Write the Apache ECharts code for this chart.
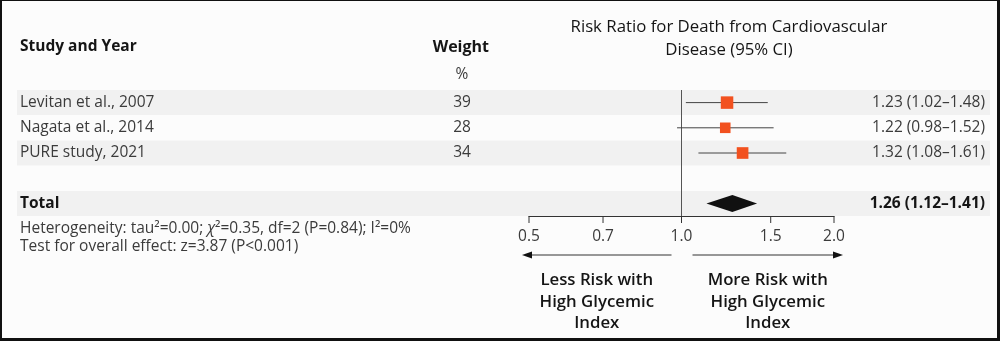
<!DOCTYPE html>
<html>
<head>
<meta charset="utf-8">
<script src="https://cdn.jsdelivr.net/npm/echarts@6/dist/echarts.min.js"></script>
<style>
html,body{margin:0;padding:0;background:#fcfcfc;}
#wrap{position:relative;width:1000px;height:341px;}
#chart{position:absolute;left:0;top:0;width:1000px;height:341px;}
#frame{position:absolute;left:0;top:0;width:1000px;height:341px;box-sizing:border-box;
  border-left:2px solid #111;border-top:1px solid #111;border-right:3px solid #111;border-bottom:3px solid #111;pointer-events:none;}
</style>
</head>
<body>
<div id="wrap"><div id="chart"></div><div id="frame"></div></div>
<script>
// ---- data ----
const studies = ['Levitan et al., 2007', 'Nagata et al., 2014', 'PURE study, 2021'];
const weights = [39, 28, 34];
const riskRatio = [1.23, 1.22, 1.32];
const ciLower = [1.02, 0.98, 1.08];
const ciUpper = [1.48, 1.52, 1.61];
const totalLabel = 'Total';
const totalRatio = [1.26];
const totalLower = [1.12];
const totalUpper = [1.41];
const tickValues = [0.5, 0.7, 1.0, 1.5, 2.0];
const tickLabels = ['0.5', '0.7', '1.0', '1.5', '2.0'];

const FONT = '"Open Sans", Lato, sans-serif';
const TXT = '#3b3b3b';
const DARK = '#151515';
const BODY = '15.5px ' + FONT;
const fmt = (v) => v.toFixed(2);
const ciText = (r, l, u) => fmt(r) + ' (' + fmt(l) + '\u2013' + fmt(u) + ')';
const TOTAL_ROW = studies.length + 1;

const chart = echarts.init(document.getElementById('chart'), null, {renderer: 'canvas'});

const rowData = studies.map((s, i) => [i, riskRatio[i], ciLower[i], ciUpper[i], weights[i]]);
const bandRows = [0, 2, TOTAL_ROW];

const option = {
  backgroundColor: '#fcfcfc',
  animation: false,
  grid: {left: 529, right: 166, top: 90, bottom: 125},
  xAxis: {
    type: 'log', logBase: 10, min: 0.5, max: 2,
    axisLine: {show: true, onZero: false, lineStyle: {color: '#333', width: 1}},
    axisTick: {show: false}, axisLabel: {show: false}, splitLine: {show: false}
  },
  yAxis: {
    type: 'value', min: -0.5, max: TOTAL_ROW + 0.5, inverse: true, show: false,
    splitLine: {show: false}
  },
  graphic: [
    {type: 'text', x: 20, y: 47, style: {text: 'Study and Year', font: 'bold 15.5px ' + FONT, fill: DARK, verticalAlign: 'middle'}},
    {type: 'text', x: 489, y: 47, style: {text: 'Weight', font: 'bold 16px ' + FONT, fill: DARK, align: 'right', verticalAlign: 'middle'}},
    {type: 'text', x: 462, y: 75, style: {text: '%', font: BODY, fill: TXT, align: 'center', verticalAlign: 'middle'}},
    {type: 'text', x: 729, y: 27, style: {text: 'Risk Ratio for Death from Cardiovascular', font: '500 16.8px ' + FONT, fill: DARK, align: 'center', verticalAlign: 'middle'}},
    {type: 'text', x: 729, y: 50, style: {text: 'Disease (95% CI)', font: '500 16.8px ' + FONT, fill: DARK, align: 'center', verticalAlign: 'middle'}},
    {type: 'text', x: 20, y: 229, style: {
      text: 'Heterogeneity: tau\u00b2=0.00; {i|\u03c7}\u00b2=0.35, df=2 (P=0.84); I\u00b2=0%',
      font: BODY, fill: TXT, verticalAlign: 'middle',
      rich: {i: {fontStyle: 'italic', fontSize: 15.5, fontFamily: FONT, fill: TXT}}
    }},
    {type: 'text', x: 20, y: 247, style: {text: 'Test for overall effect: z=3.87 (P<0.001)', font: BODY, fill: TXT, verticalAlign: 'middle'}}
  ],
  series: [
    {
      type: 'custom', z: 1, silent: true,
      data: bandRows.map(r => [r]),
      renderItem: (params, api) => {
        const c = api.coord([1, api.value(0)]);
        return {type: 'rect', shape: {x: 17, y: c[1] - 12.5, width: 973, height: 25}, style: {fill: '#f1f1f1'}};
      }
    },
    {
      type: 'custom', z: 2, silent: true,
      data: [[1]],
      renderItem: (params, api) => {
        const a = api.coord([api.value(0), -0.5]);
        const b = api.coord([api.value(0), TOTAL_ROW + 0.5]);
        return {type: 'line', shape: {x1: a[0], y1: a[1], x2: b[0], y2: b[1]}, style: {stroke: '#555', lineWidth: 1}};
      }
    },
    {
      type: 'custom', z: 3, silent: true,
      data: rowData,
      renderItem: (params, api) => {
        const i = params.dataIndex;
        const y = api.value(0);
        const p = api.coord([api.value(1), y]);
        const l = api.coord([api.value(2), y]);
        const u = api.coord([api.value(3), y]);
        const s = 2 * Math.sqrt(api.value(4));
        return {type: 'group', children: [
          {type: 'line', shape: {x1: l[0], y1: l[1], x2: u[0], y2: u[1]}, style: {stroke: '#444', lineWidth: 1}},
          {type: 'rect', shape: {x: p[0] - s / 2, y: p[1] - s / 2, width: s, height: s}, style: {fill: '#f2511f'}},
          {type: 'text', x: 20, y: p[1], style: {text: studies[i], font: BODY, fill: TXT, verticalAlign: 'middle'}},
          {type: 'text', x: 462, y: p[1], style: {text: String(weights[i]), font: BODY, fill: TXT, align: 'center', verticalAlign: 'middle'}},
          {type: 'text', x: 985, y: p[1], style: {text: ciText(riskRatio[i], ciLower[i], ciUpper[i]), font: BODY, fill: TXT, align: 'right', verticalAlign: 'middle'}}
        ]};
      }
    },
    {
      type: 'custom', z: 3, silent: true,
      data: totalRatio.map((r, i) => [TOTAL_ROW, r, totalLower[i], totalUpper[i]]),
      renderItem: (params, api) => {
        const y = api.value(0);
        const p = api.coord([api.value(1), y]);
        const l = api.coord([api.value(2), y]);
        const u = api.coord([api.value(3), y]);
        const h = 8.5;
        return {type: 'group', children: [
          {type: 'polygon', shape: {points: [[l[0], p[1]], [p[0], p[1] - h], [u[0], p[1]], [p[0], p[1] + h]]}, style: {fill: '#111'}},
          {type: 'text', x: 20, y: p[1], style: {text: totalLabel, font: 'bold ' + BODY, fill: DARK, verticalAlign: 'middle'}},
          {type: 'text', x: 985, y: p[1], style: {text: ciText(totalRatio[0], totalLower[0], totalUpper[0]), font: 'bold ' + BODY, fill: DARK, align: 'right', verticalAlign: 'middle'}}
        ]};
      }
    },
    {
      type: 'custom', z: 3, silent: true,
      data: tickValues.map((v, i) => [v, i]),
      renderItem: (params, api) => {
        const c = api.coord([api.value(0), TOTAL_ROW + 0.5]);
        return {type: 'group', children: [
          {type: 'line', shape: {x1: c[0], y1: c[1], x2: c[0], y2: c[1] + 7}, style: {stroke: '#333', lineWidth: 1}},
          {type: 'text', x: c[0], y: c[1] + 21, style: {text: tickLabels[params.dataIndex], font: BODY, fill: TXT, align: 'center', verticalAlign: 'middle'}}
        ]};
      }
    },
    {
      type: 'custom', z: 3, silent: true,
      data: [[tickValues[0], 1, tickValues[tickValues.length - 1]]],
      renderItem: (params, api) => {
        const base = api.coord([api.value(1), TOTAL_ROW + 0.5]);
        const lo = api.coord([api.value(0), TOTAL_ROW + 0.5]);
        const hi = api.coord([api.value(2), TOTAL_ROW + 0.5]);
        const ay = base[1] + 39;
        const lx1 = lo[0] - 7, lx2 = base[0] - 10;
        const rx1 = base[0] + 11, rx2 = hi[0] + 9;
        const lc = (lx1 + lx2) / 2, rc = (rx1 + rx2) / 2;
        const ts = {font: '600 16.8px ' + FONT, fill: DARK, align: 'center', verticalAlign: 'middle'};
        const txt = (x, y, t) => ({type: 'text', x: x, y: y, style: Object.assign({text: t}, ts)});
        return {type: 'group', children: [
          {type: 'line', shape: {x1: lx1 + 8, y1: ay, x2: lx2, y2: ay}, style: {stroke: '#333', lineWidth: 1.2}},
          {type: 'polygon', shape: {points: [[lx1, ay], [lx1 + 10, ay - 3.5], [lx1 + 10, ay + 3.5]]}, style: {fill: '#111'}},
          {type: 'line', shape: {x1: rx1, y1: ay, x2: rx2 - 8, y2: ay}, style: {stroke: '#333', lineWidth: 1.2}},
          {type: 'polygon', shape: {points: [[rx2, ay], [rx2 - 10, ay - 3.5], [rx2 - 10, ay + 3.5]]}, style: {fill: '#111'}},
          txt(lc, ay + 25, 'Less Risk with'),
          txt(lc, ay + 47, 'High Glycemic'),
          txt(lc, ay + 68, 'Index'),
          txt(rc, ay + 25, 'More Risk with'),
          txt(rc, ay + 47, 'High Glycemic'),
          txt(rc, ay + 68, 'Index')
        ]};
      }
    }
  ]
};
chart.setOption(option);
</script>
</body>
</html>
